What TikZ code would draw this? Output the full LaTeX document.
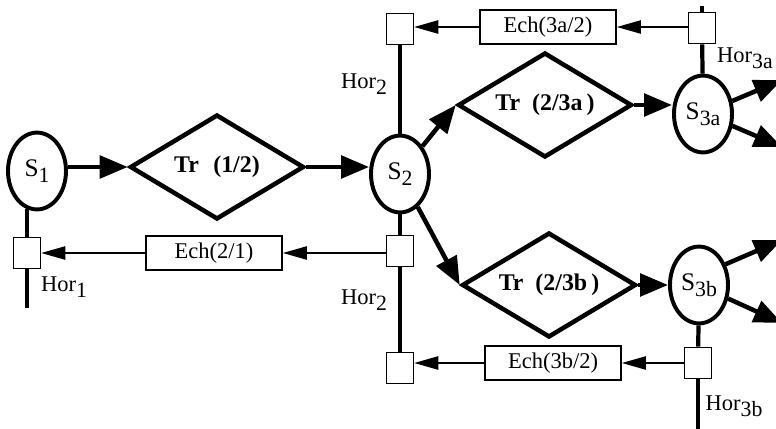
\documentclass[tikz,border=0pt]{standalone}
\usepackage{fontspec}
\setmainfont{Liberation Serif}
\usetikzlibrary{positioning,arrows.meta,shapes.geometric}

% lowered index as printed in the scheme (S1, Hor2, ...)
\newcommand{\idx}[1]{\raisebox{-4pt}{\fontsize{15.5}{16}\selectfont #1}}

\begin{document}
\begin{tikzpicture}[
  x=0.025cm, y=-0.025cm,
  every node/.style={font=\fontsize{15}{18}\selectfont},
  state/.style={ellipse, draw, line width=2.8pt, minimum width=1.45cm, minimum height=1.92cm, inner sep=0pt, font=\fontsize{18}{18}\selectfont},
  trans/.style={diamond, draw, line width=3.2pt, aspect=1.66, minimum width=4.35cm, minimum height=2.62cm, inner sep=0pt, font=\fontsize{17}{18}\selectfont\bfseries},
  ech/.style={rectangle, draw, line width=1.2pt, minimum width=3.4cm, minimum height=0.86cm, inner sep=0pt, font=\fontsize{16}{18}\selectfont},
  hor/.style={rectangle, draw, line width=1.2pt, minimum width=0.67cm, minimum height=0.78cm, inner sep=0pt},
  lbl/.style={font=\fontsize{16}{16}\selectfont, inner sep=0pt},
  flow/.style={line width=3.2pt, -{Triangle[length=0.7cm,width=0.56cm]}},
  link/.style={line width=1.2pt, -{Triangle[length=0.6cm,width=0.33cm]}},
  spine/.style={line width=3pt}
]
\useasboundingbox (0,0) rectangle (776,428);
\clip (0,0) rectangle (776,428);

% States and transitions
\node[state] (S1) at (37,171) {S\idx{1}};
\node[trans] (tr12) at (217,167) {Tr\hspace{0.6em}(1/2)};
\node[state] (S2) at (400,174) {S\idx{2}};
\node[trans] (tr23a) at (545,105) {Tr\hspace{0.5em}(2/3a\,)};
\node[trans] (tr23b) at (549,285) {Tr\hspace{0.5em}(2/3b\,)};
\node[state] (S3a) at (703,114) {S\idx{3a}};
\node[state] (S3b) at (699,285) {S\idx{3b}};

% Clock squares on the vertical lines
\node[hor] (h1) at (27,253) {};
\node[hor] (h2u) at (400,29) {};
\node[hor] (h2m) at (400,251) {};
\node[hor] (h2d) at (400,368) {};
\node[hor] (h3a) at (702,28) {};
\node[hor] (h3b) at (698,363) {};

% Exchange boxes
\node[ech] (e21) at (214,253) {Ech(2/1)};
\node[ech] (e3a) at (548,27) {Ech(3a/2)};
\node[ech] (e3b) at (553,363) {Ech(3b/2)};

% Hor labels
\node[lbl] (l1) at (64,287) {Hor\idx{1}};
\node[lbl] (l2u) at (364,84) {Hor\idx{2}};
\node[lbl] (l2d) at (364,300) {Hor\idx{2}};
\node[lbl] (l3a) at (745,58) {Hor\idx{3a}};
\node[lbl] (l3b) at (734,406) {Hor\idx{3b}};

% free ends
\coordinate (h1end) at (27,308);
\coordinate (h3atop) at (702,6);
\coordinate (h3bend) at (698,440);
\coordinate (o3a1) at (782,80);
\coordinate (o3a2) at (782,147);
\coordinate (o3b1) at (782,240);
\coordinate (o3b2) at (782,323);

% vertical lines
\draw[spine] (h1 |- S1.255) -- (h1.north);
\draw[spine] (h1.south) -- (h1end);
\draw[spine] (h2u) -- (S2);
\draw[spine] (S2) -- (h2m);
\draw[spine] (h2m) -- (h2d);
\draw[spine] (h3atop) -- (h3a.north);
\draw[spine] (h3a) -- (S3a);
\draw[spine] (S3b) -- (h3b);
\draw[spine] (h3b.south) -- (h3bend);

% flow arrows
\draw[flow] (tr12.west -| S1.east) -- (tr12.west);
\draw[flow] (tr12.east) -- (tr12.east -| S2.west);
\draw[flow] (S2) -- (tr23a.west);
\draw[flow] (S2) -- (tr23b.west);
\draw[flow] (tr23a.east) -- (tr23a.east -| S3a.west);
\draw[flow] (tr23b.east) -- (S3b.west);
\draw[flow] (S3a.24) -- (o3a1);
\draw[flow] (S3a.-22) -- (o3a2);
\draw[flow] (S3b.38) -- (o3b1);
\draw[flow] (S3b.-25) -- (o3b2);

% exchange arrows
\draw[link] (e21.east -| h2m.west) -- (e21.east);
\draw[link] (e21.west) -- (h1.east);
\draw[link] (e3a.east -| h3a.west) -- (e3a.east);
\draw[link] (e3a.west) -- (e3a.west -| h2u.east);
\draw[link] (h3b.west) -- (e3b.east);
\draw[link] (e3b.west) -- (e3b.west -| h2d.east);

\end{tikzpicture}
\end{document}
